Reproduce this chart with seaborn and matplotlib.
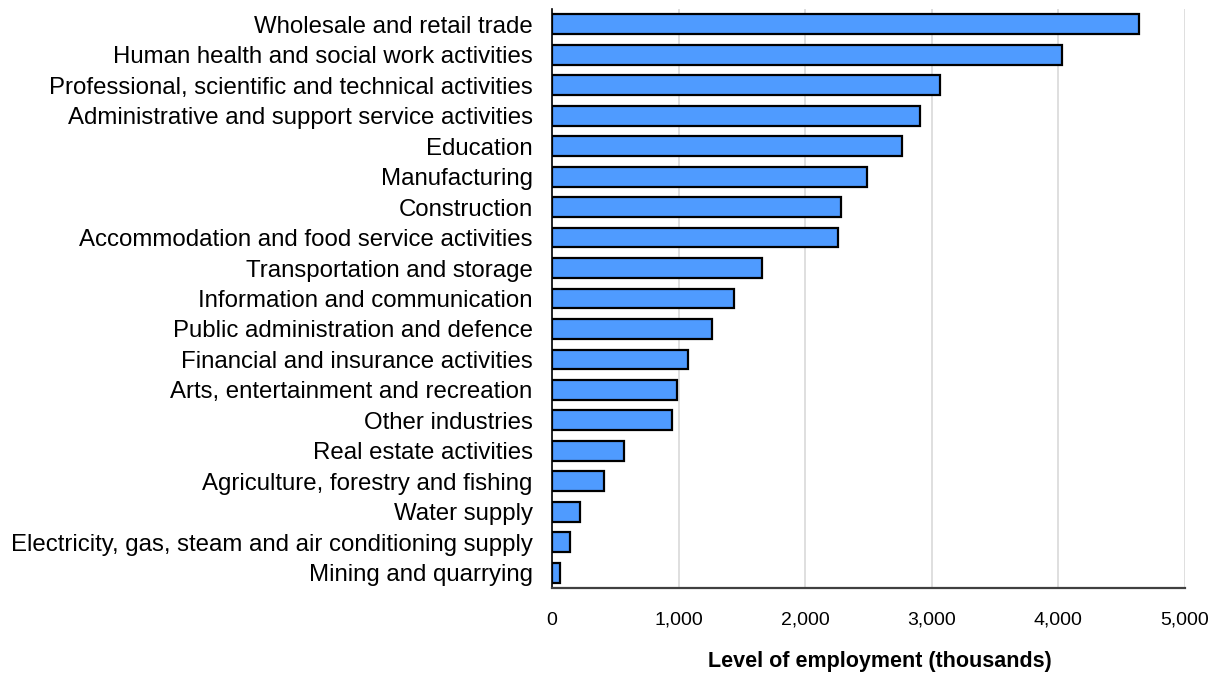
import matplotlib
matplotlib.use("Agg")
import matplotlib.pyplot as plt
import seaborn as sns
import pandas as pd
from matplotlib.ticker import FuncFormatter

categories = [
    "Wholesale and retail trade",
    "Human health and social work activities",
    "Professional, scientific and technical activities",
    "Administrative and support service activities",
    "Education",
    "Manufacturing",
    "Construction",
    "Accommodation and food service activities",
    "Transportation and storage",
    "Information and communication",
    "Public administration and defence",
    "Financial and insurance activities",
    "Arts, entertainment and recreation",
    "Other industries",
    "Real estate activities",
    "Agriculture, forestry and fishing",
    "Water supply",
    "Electricity, gas, steam and air conditioning supply",
    "Mining and quarrying",
]
employment = [4637, 4030, 3061, 2904, 2761, 2492, 2285, 2256, 1657, 1437,
              1261, 1071, 991, 945, 569, 409, 220, 140, 60]
x_ticks = [0, 1000, 2000, 3000, 4000, 5000]
x_title = "Level of employment (thousands)"

df = pd.DataFrame({"industry": categories, "employment": employment})

sns.set_theme(style="white")
plt.rcParams["font.family"] = ["Liberation Sans", "DejaVu Sans"]

fig = plt.figure(figsize=(12.24, 6.75), dpi=100)
ax = fig.add_axes([552 / 1224, 1 - 588 / 675, (1185 - 552) / 1224, (588 - 9) / 675])

sns.barplot(data=df, x="employment", y="industry", orient="h", color="#4F9BFF",
            saturation=1, edgecolor="black", linewidth=1.6, width=0.65, ax=ax)

ax.set_xlim(0, 5000)
ax.set_xticks(x_ticks)
ax.xaxis.set_major_formatter(FuncFormatter(lambda v, p: f"{int(v):,}"))
ax.grid(axis="x", color="#D9D9D9", linewidth=1.2)
ax.set_axisbelow(True)
ax.set_xlabel("")
ax.set_ylabel("")

for s in ["top", "right"]:
    ax.spines[s].set_visible(False)
ax.spines["left"].set_color("black")
ax.spines["left"].set_linewidth(1.2)
ax.spines["bottom"].set_color("#404040")
ax.spines["bottom"].set_linewidth(1.6)

ax.tick_params(axis="y", length=0, pad=14, labelsize=17.3, labelcolor="black")
ax.tick_params(axis="x", length=0, pad=17, labelsize=14, labelcolor="black")

fig.text(880 / 1224, 1 - 662 / 675, x_title, ha="center", va="center",
         fontsize=15.5, fontweight="bold", color="black")

fig.savefig("out.png", dpi=100)
